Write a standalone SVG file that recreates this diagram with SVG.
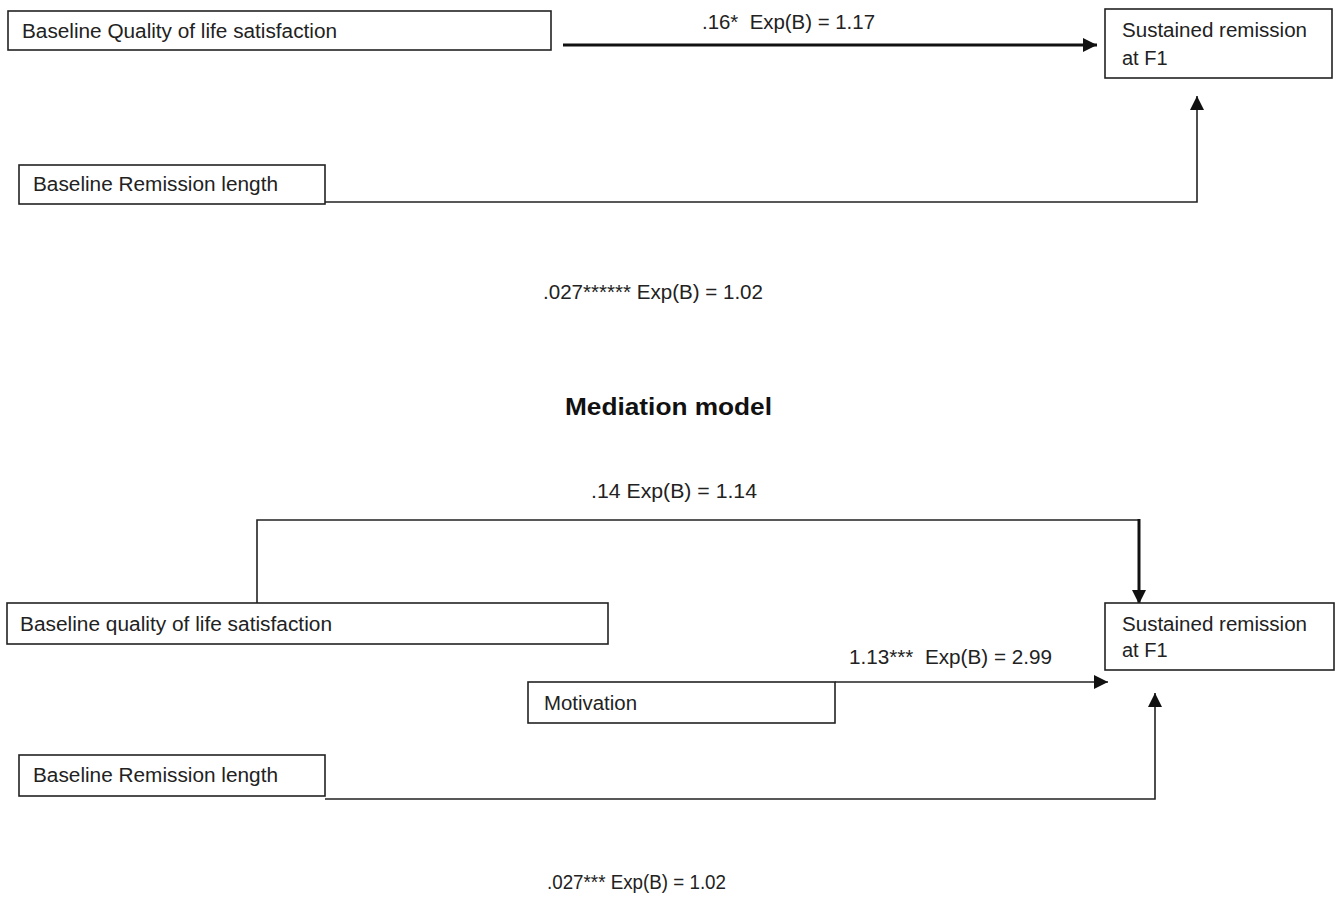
<svg xmlns="http://www.w3.org/2000/svg" width="1341" height="898" viewBox="0 0 1341 898">
<defs>
<marker id="ah" markerUnits="userSpaceOnUse" markerWidth="15" markerHeight="14" refX="14" refY="7" orient="auto">
<path d="M0,0 L14,7 L0,14 Z" fill="#111"/>
</marker>
</defs>
<style>
.box{fill:#fff;stroke:#222;stroke-width:1.6}
.t{font-family:"Liberation Sans",Arial,sans-serif;font-size:20px;fill:#222}
.lbl{font-family:"Liberation Sans",Arial,sans-serif;font-size:19.5px;fill:#222}
.ttl{font-family:"Liberation Sans",Arial,sans-serif;font-size:23px;font-weight:bold;fill:#111}
.c{fill:none;stroke:#222;stroke-width:1.6}
.ct{fill:none;stroke:#111;stroke-width:3}
</style>
<rect width="1341" height="898" fill="#fff"/>
<g id="connectors">
<line class="ct" x1="563" y1="45" x2="1097" y2="45" marker-end="url(#ah)"/>
<polyline class="c" points="325,202 1197,202 1197,96" marker-end="url(#ah)"/>
<polyline class="c" points="257,603 257,520 1139,520"/>
<line class="ct" x1="1139" y1="519" x2="1139" y2="604" marker-end="url(#ah)"/>
<line class="c" x1="835" y1="682" x2="1108" y2="682" marker-end="url(#ah)"/>
<polyline class="c" points="325,799 1155,799 1155,693" marker-end="url(#ah)"/>
</g>
<g id="labels">
<text class="lbl" x="702" y="29" textLength="173" lengthAdjust="spacingAndGlyphs">.16*&#160; Exp(B) = 1.17</text>
<text class="lbl" x="543" y="299" textLength="220" lengthAdjust="spacingAndGlyphs">.027****** Exp(B) = 1.02</text>
<text class="ttl" x="565" y="415" textLength="207" lengthAdjust="spacingAndGlyphs">Mediation model</text>
<text class="lbl" x="591" y="498" textLength="166" lengthAdjust="spacingAndGlyphs">.14 Exp(B) = 1.14</text>
<text class="lbl" x="849" y="664" textLength="203" lengthAdjust="spacingAndGlyphs">1.13***&#160; Exp(B) = 2.99</text>
<text class="lbl" x="547" y="889" font-size="17" textLength="179" lengthAdjust="spacingAndGlyphs">.027*** Exp(B) = 1.02</text>
</g>
<g id="node-qol-top">
<rect class="box" x="8" y="11" width="543" height="39"/>
<text class="t" x="22" y="38" textLength="315" lengthAdjust="spacingAndGlyphs">Baseline Quality of life satisfaction</text>
</g>
<g id="node-outcome-top">
<rect class="box" x="1105" y="9" width="227" height="69"/>
<text class="t" x="1122" y="37" textLength="185" lengthAdjust="spacingAndGlyphs">Sustained remission</text>
<text class="t" x="1122" y="65">at F1</text>
</g>
<g id="node-remission-top">
<rect class="box" x="19" y="165" width="306" height="39"/>
<text class="t" x="33" y="191" textLength="245" lengthAdjust="spacingAndGlyphs">Baseline Remission length</text>
</g>
<g id="node-qol-bottom">
<rect class="box" x="7" y="603" width="601" height="41"/>
<text class="t" x="20" y="631" textLength="312" lengthAdjust="spacingAndGlyphs">Baseline quality of life satisfaction</text>
</g>
<g id="node-outcome-bottom">
<rect class="box" x="1105" y="603" width="229" height="67"/>
<text class="t" x="1122" y="631" textLength="185" lengthAdjust="spacingAndGlyphs">Sustained remission</text>
<text class="t" x="1122" y="657">at F1</text>
</g>
<g id="node-motivation">
<rect class="box" x="528" y="682" width="307" height="41"/>
<text class="t" x="544" y="710" textLength="93" lengthAdjust="spacingAndGlyphs">Motivation</text>
</g>
<g id="node-remission-bottom">
<rect class="box" x="19" y="755" width="306" height="41"/>
<text class="t" x="33" y="782" textLength="245" lengthAdjust="spacingAndGlyphs">Baseline Remission length</text>
</g>
</svg>
